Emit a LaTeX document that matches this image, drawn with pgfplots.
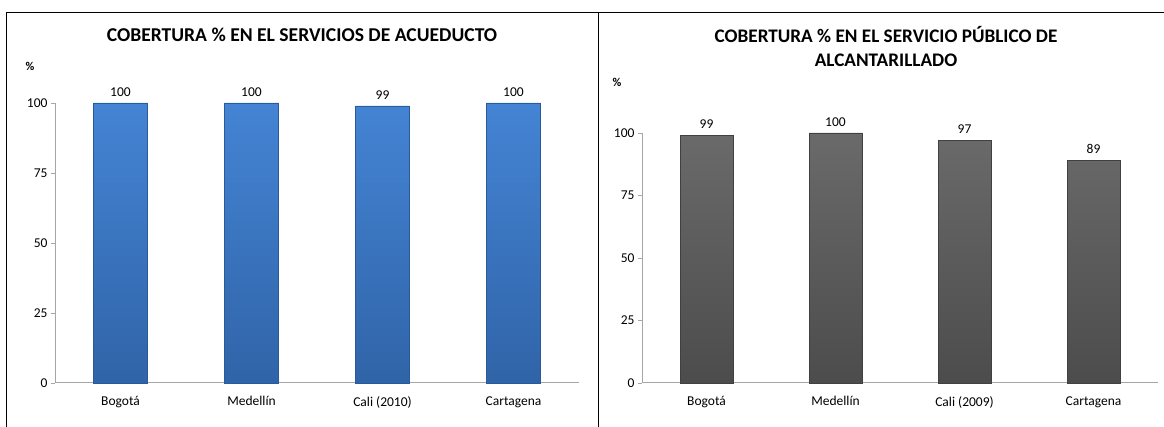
\documentclass[border=0pt]{standalone}
\usepackage{pgfplots}
\pgfplotsset{compat=1.18}
\usepackage{fontspec}
\setmainfont{Carlito}
\definecolor{bluetop}{HTML}{4484D4}
\definecolor{bluebot}{HTML}{3064A8}
\definecolor{blueedge}{HTML}{2A5A98}
\definecolor{graytop}{HTML}{6A6A6A}
\definecolor{graybot}{HTML}{4C4C4C}
\definecolor{grayedge}{HTML}{404040}
\definecolor{axgray}{HTML}{A6A6A6}
\pgfplotsset{
  cobstyle/.style={
    scale only axis,
    anchor=south west,
    ymin=0, ymax=100,
    xmin=-0.5, xmax=3.5,
    axis x line*=bottom,
    axis y line*=left,
    axis line style={axgray, line width=1pt},
    ytick={0,25,50,75,100},
    xtick=data,
    ybar,
    bar width=54pt,
    tick align=outside,
    major tick length=4pt,
    ytick style={axgray, line width=0.8pt},
    xtick style={draw=none},
    /pgf/number format/assume math mode=true,
    yticklabel style={font=\fontsize{13.5}{15}\selectfont, text=black},
    xticklabel style={font=\fontsize{13.5}{15}\selectfont, text=black, yshift=-6pt},
    nodes near coords,
    every node near coord/.append style={font=\fontsize{13.5}{15}\selectfont, text=black, anchor=south, yshift=3pt},
    clip=false,
  }
}
\begin{document}
\begin{tikzpicture}[x=1pt,y=1pt]
\useasboundingbox (0,0) rectangle (1164,427);
% frames
\draw[black, line width=1.2pt] (6.3,0) -- (6.3,414.3) -- (1164,414.3);
\draw[black, line width=1.2pt] (598.5,0) -- (598.5,414.3);
% left chart
\node[font=\fontsize{19.6}{21}\selectfont\bfseries] at (302,392) {COBERTURA \% EN EL SERVICIOS DE ACUEDUCTO};
\node[font=\fontsize{12}{14}\selectfont\bfseries] at (30,361) {\%};
\begin{axis}[cobstyle, at={(55pt,44pt)}, width=524pt, height=280pt,
  xticklabels={Bogotá, Medellín, Cali (2010), Cartagena}]
\addplot[draw=blueedge, top color=bluetop, bottom color=bluebot] coordinates {(0,100) (1,100) (2,99) (3,100)};
\end{axis}
% right chart
\node[font=\fontsize{19.2}{21}\selectfont\bfseries] at (886,392) {COBERTURA \% EN EL SERVICIO PÚBLICO DE};
\node[font=\fontsize{19.2}{21}\selectfont\bfseries] at (886,367) {ALCANTARILLADO};
\node[font=\fontsize{12}{14}\selectfont\bfseries] at (617,345) {\%};
\begin{axis}[cobstyle, at={(642pt,44pt)}, width=516pt, height=250pt, bar width=53pt,
  xticklabels={Bogotá, Medellín, Cali (2009), Cartagena}]
\addplot[draw=grayedge, top color=graytop, bottom color=graybot] coordinates {(0,99) (1,100) (2,97) (3,89)};
\end{axis}
\end{tikzpicture}
\end{document}
